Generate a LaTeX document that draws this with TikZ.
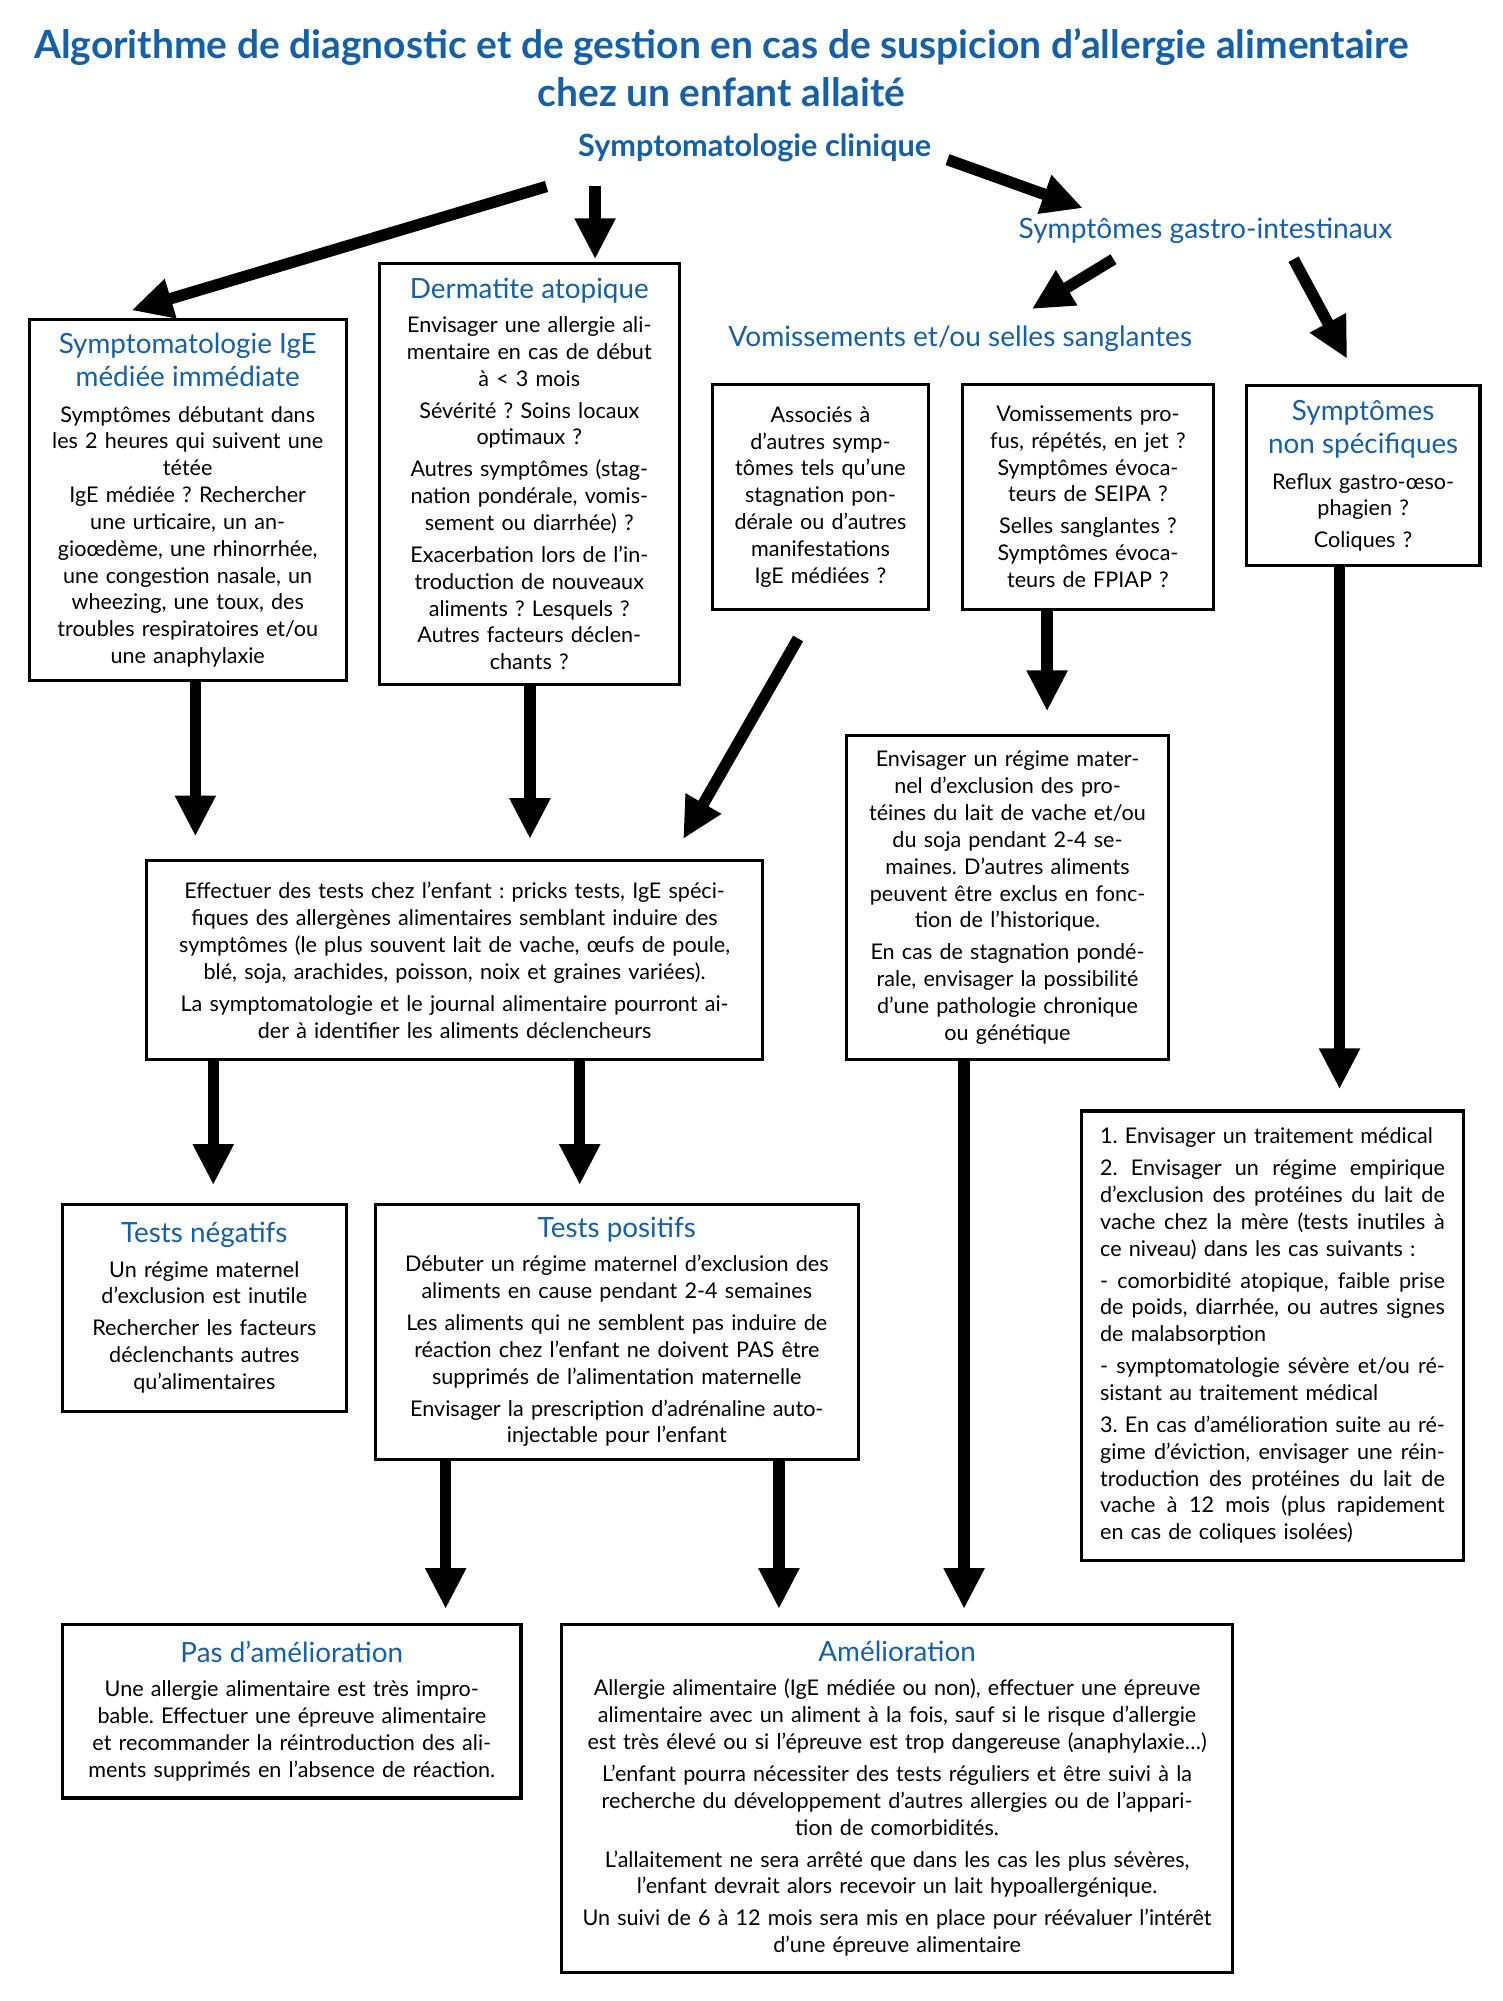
\documentclass[tikz,border=0pt]{standalone}
\usepackage{fontspec}
\setmainfont{Lato}
\usetikzlibrary{arrows.meta}
\definecolor{hblue}{RGB}{21,96,166}
\newcommand\hd{\color{hblue}\fontsize{21.8}{21}\selectfont}
\newcommand\bodyfont{\fontsize{16.9}{21}\selectfont\lineskiplimit=-50pt\lineskip=0pt\frenchspacing}
\newcommand\jl[1]{\leavevmode\hbox to 270pt{\spaceskip=\fontdimen2\font plus 1fil\relax #1}}
\tikzset{
  box/.style={draw, line width=2.4pt, rectangle, inner sep=0pt, align=center, font=\bodyfont},
  blab/.style={text=hblue, inner sep=0pt},
  arr/.style={line width=9pt, -{Triangle[width=30pt,length=32pt]}},
}
\begin{document}
\begin{tikzpicture}[x=1pt,y=-1pt]
\useasboundingbox (0,0) rectangle (1177,1567);

% titles
\node[blab, align=center, font=\fontsize{30.5}{37}\selectfont\bfseries] (title) at (565,53)
  {Algorithme de diagnostic et de gestion en cas de suspicion d’allergie alimentaire\\chez un enfant allaité};
\node[blab, font=\fontsize{24}{26}\selectfont\bfseries] (clin) at (591,116) {Symptomatologie clinique};
\node[blab, font=\fontsize{22}{24}\selectfont] (gi) at (944,181) {Symptômes gastro-intestinaux};
\node[blab, font=\fontsize{22}{24}\selectfont] (vomt) at (752,265) {Vomissements et/ou selles sanglantes};

% boxes
\node[box, minimum width=248pt, minimum height=283pt, text width=240pt] (ige) at (147,391.5)
 {{\hd Symptomatologie IgE\\[5pt]médiée immédiate}\\[7pt]
 Symptômes débutant dans\\les 2 heures qui suivent une\\tétée\\IgE médiée ? Rechercher\\une urticaire, un an-\\gioœdème, une rhinorrhée,\\une congestion nasale, un\\wheezing, une toux, des\\troubles respiratoires et/ou\\une anaphylaxie};

\node[box, minimum width=235pt, minimum height=330pt, text width=228pt] (derm) at (414.5,371)
 {{\hd Dermatite atopique}\\[6pt]
 Envisager une allergie ali-\\mentaire en cas de début\\à~<~3 mois\\[4pt]
 Sévérité ? Soins locaux\\optimaux ?\\[4pt]
 Autres symptômes (stag-\\nation pondérale, vomis-\\sement ou diarrhée) ?\\[4pt]
 Exacerbation lors de l’in-\\troduction de nouveaux\\aliments ? Lesquels ?\\Autres facteurs déclen-\\chants ?};

\node[box, minimum width=169pt, minimum height=176pt, text width=164pt] (assoc) at (642.5,389)
 {Associés à\\d’autres symp-\\tômes tels qu’une\\stagnation pon-\\dérale ou d’autres\\manifestations\\IgE médiées ?};

\node[box, minimum width=196pt, minimum height=176pt, text width=190pt] (vomi) at (852,389)
 {Vomissements pro-\\fus, répétés, en jet ?\\Symptômes évoca-\\teurs de SEIPA ?\\[4pt]
 Selles sanglantes ?\\Symptômes évoca-\\teurs de FPIAP ?};

\node[box, minimum width=183pt, minimum height=141pt, text width=178pt] (nonspec) at (1067.5,372.5)
 {{\hd Symptômes\\[5pt]non spécifiques}\\[7pt]
 Reflux gastro-œso-\\phagien ?\\[4pt]Coliques ?};

\node[box, minimum width=482pt, minimum height=156pt, text width=476pt] (effect) at (356,752)
 {Effectuer des tests chez l’enfant : pricks tests, IgE spéci-\\fiques des allergènes alimentaires semblant induire des\\symptômes (le plus souvent lait de vache, œufs de poule,\\blé, soja, arachides, poisson, noix et graines variées).\\[4pt]
 La symptomatologie et le journal alimentaire pourront ai-\\der à identifier les aliments déclencheurs};

\node[box, minimum width=252pt, minimum height=254pt, text width=246pt] (regime) at (789,703)
 {Envisager un régime mater-\\nel d’exclusion des pro-\\téines du lait de vache et/ou\\du soja pendant 2-4 se-\\maines. D’autres aliments\\peuvent être exclus en fonc-\\tion de l’historique.\\[4pt]
 En cas de stagnation pondé-\\rale, envisager la possibilité\\d’une pathologie chronique\\ou génétique};

\node[box, minimum width=222pt, minimum height=162pt, text width=216pt] (neg) at (160,1024)
 {{\hd Tests négatifs}\\[6pt]
 Un régime maternel\\d’exclusion est inutile\\[4pt]
 Rechercher les facteurs\\déclenchants autres\\qu’alimentaires};

\node[box, minimum width=378pt, minimum height=200pt, text width=372pt] (pos) at (483,1043)
 {{\hd Tests positifs}\\[6pt]
 Débuter un régime maternel d’exclusion des\\aliments en cause pendant 2-4 semaines\\[4pt]
 Les aliments qui ne semblent pas induire de\\réaction chez l’enfant ne doivent PAS être\\supprimés de l’alimentation maternelle\\[4pt]
 Envisager la prescription d’adrénaline auto-\\injectable pour l’enfant};

\node[box, align=left, minimum width=299pt, minimum height=352pt, text width=270pt] (right) at (996.5,1046)
 {1. Envisager un traitement médical\\[4pt]
 \jl{2. Envisager un régime empirique}\\\jl{d’exclusion des protéines du lait de}\\\jl{vache chez la mère (tests inutiles à}\\ce niveau) dans les cas suivants :\\[4pt]
 \jl{- comorbidité atopique, faible prise}\\\jl{de poids, diarrhée, ou autres signes}\\de malabsorption\\[4pt]
 \jl{- symptomatologie sévère et/ou ré-}\\sistant au traitement médical\\[4pt]
 \jl{3. En cas d’amélioration suite au ré-}\\\jl{gime d’éviction, envisager une réin-}\\\jl{troduction des protéines du lait de}\\\jl{vache à 12 mois (plus rapidement}\\en cas de coliques isolées)};

\node[box, minimum width=359pt, minimum height=136pt, text width=352pt] (pas) at (228.5,1340)
 {{\hd Pas d’amélioration}\\[6pt]
 Une allergie alimentaire est très impro-\\bable. Effectuer une épreuve alimentaire\\et recommander la réintroduction des ali-\\ments supprimés en l’absence de réaction.};

\node[box, minimum width=525pt, minimum height=273pt, text width=518pt] (amel) at (702.5,1408.5)
 {{\hd Amélioration}\\[6pt]
 Allergie alimentaire (IgE médiée ou non), effectuer une épreuve\\alimentaire avec un aliment à la fois, sauf si le risque d’allergie\\est très élevé ou si l’épreuve est trop dangereuse (anaphylaxie…)\\[4pt]
 L’enfant pourra nécessiter des tests réguliers et être suivi à la\\recherche du développement d’autres allergies ou de l’appari-\\tion de comorbidités.\\[4pt]
 L’allaitement ne sera arrêté que dans les cas les plus sévères,\\l’enfant devrait alors recevoir un lait hypoallergénique.\\[4pt]
 Un suivi de 6 à 12 mois sera mis en place pour réévaluer l’intérêt\\d’une épreuve alimentaire};

% arrow end points
\coordinate (s11) at (428,146); \coordinate (t11) at (103,243);
\coordinate (s12) at (466,146); \coordinate (t12) at (466,203);
\coordinate (s13) at (742,125); \coordinate (t13) at (848,163);
\coordinate (s14) at (872,203); \coordinate (t14) at (808,242);
\coordinate (s15) at (1013,203); \coordinate (t15) at (1055,281);
\coordinate (t1) at (153,655);
\coordinate (t2) at (415,657);
\coordinate (s3) at (625,500); \coordinate (t3) at (535,657);
\coordinate (t4) at (820,557);
\coordinate (t5) at (1049,853);
\coordinate (t6) at (167,928);
\coordinate (t7) at (454,928);
\coordinate (t8) at (349,1260);
\coordinate (t9) at (610,1260);
\coordinate (t10) at (755,1260);

% arrows
\draw[arr] (s11) -- (t11);
\draw[arr] (s12) -- (t12);
\draw[arr] (s13) -- (t13);
\draw[arr] (s14) -- (t14);
\draw[arr] (s15) -- (t15);
\draw[arr] (ige.south -| t1) -- (t1);
\draw[arr] (derm.south -| t2) -- (t2);
\draw[arr] (s3) -- (t3);
\draw[arr] (vomi.south -| t4) -- (t4);
\draw[arr] (nonspec.south -| t5) -- (t5);
\draw[arr] (effect.south -| t6) -- (t6);
\draw[arr] (effect.south -| t7) -- (t7);
\draw[arr] (pos.south -| t8) -- (t8);
\draw[arr] (pos.south -| t9) -- (t9);
\draw[arr] (regime.south -| t10) -- (t10);
\end{tikzpicture}
\end{document}
